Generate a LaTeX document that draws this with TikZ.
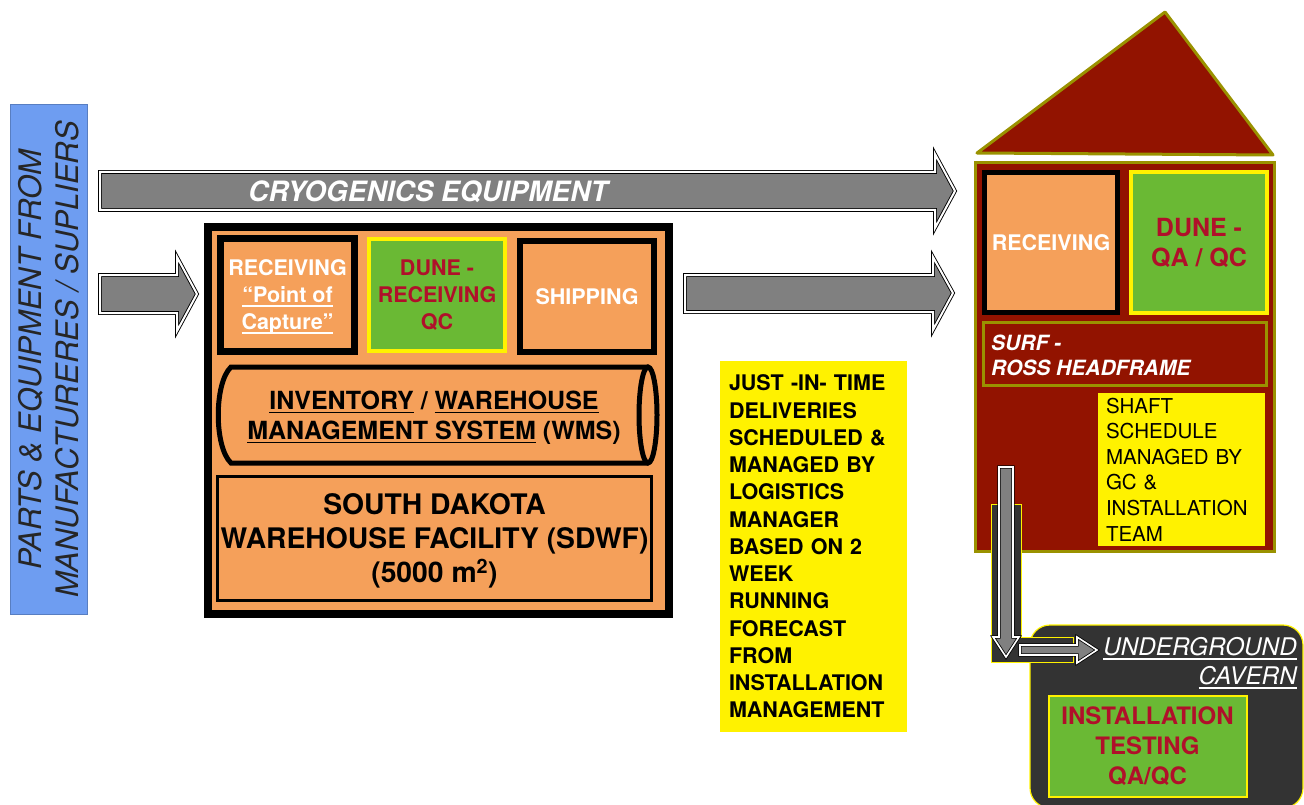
\documentclass[tikz,border=0pt]{standalone}
\usepackage{fontspec}
\setmainfont{TeX Gyre Heros}
\usepackage{tikz}

\newsavebox{\ulinbox}
\newcommand{\ulin}[1]{\sbox{\ulinbox}{#1}\rlap{\rule[-4pt]{\wd\ulinbox}{1.5pt}}\usebox{\ulinbox}}

\definecolor{boxorange}{HTML}{F5A05A}
\definecolor{qcgreen}{HTML}{6AB934}
\definecolor{qcred}{HTML}{B0102A}
\definecolor{housered}{HTML}{921300}
\definecolor{roofolive}{HTML}{9A9200}
\definecolor{arrowgray}{HTML}{808080}
\definecolor{partsblue}{HTML}{6E9DF1}
\definecolor{cavegray}{HTML}{333333}

\begin{document}
\begin{tikzpicture}[x=1pt,y=-1pt,
  bigarrow/.style={fill=arrowgray,draw=black,line width=0.9pt,double=white,double distance=2pt},
  area/.style={draw=black,fill=boxorange,inner sep=0pt,align=center,text=white,font=\fontsize{21.5}{27}\selectfont\bfseries},
  qcbox/.style={draw=yellow,fill=qcgreen,inner sep=0pt,align=center,text=qcred,text depth=0pt},
  note/.style={fill=yellow,inner sep=0pt,align=left}]
\useasboundingbox (0,0) rectangle (1304,805);

% suppliers
\node[draw=partsblue!80!black,line width=1pt,fill=partsblue,rotate=90,minimum width=509pt,minimum height=77pt,inner sep=0pt,
  align=center,text=black!85,font=\fontsize{31}{37}\selectfont\itshape] (parts) at (48.5,359.5)
  {PARTS \& EQUIPMENT FROM\\MANUFACTURERES / SUPLIERS};

% arrows
\draw[bigarrow] (100,172) -- (935,172) -- (935,154) -- (955,191) -- (935,228) -- (935,210) -- (100,210) -- cycle;
\node[text=white,font=\fontsize{28}{30}\selectfont\bfseries\itshape] (cryo) at (428,192) {CRYOGENICS EQUIPMENT};
\draw[bigarrow] (100,275) -- (177,275) -- (177,257) -- (197,294) -- (177,331) -- (177,313) -- (100,313) -- cycle;
\draw[bigarrow] (685,275) -- (933,275) -- (933,257) -- (953,293) -- (933,330) -- (933,312) -- (685,312) -- cycle;

% warehouse
\node[draw=black,line width=8pt,fill=boxorange,minimum width=461pt,minimum height=387pt] (sdwf) at (438.5,420.5) {};
\node[area,line width=7pt,minimum width=134pt,minimum height=113pt,text depth=0pt] (recv) at (287.5,295)
  {RECEIVING\\\ulin{“Point of}\\\ulin{Capture”}};
\node[qcbox,line width=4pt,minimum width=136pt,minimum height=112pt,font=\fontsize{21.5}{27}\selectfont\bfseries] (qc) at (437,295)
  {DUNE -\\RECEIVING\\QC};
\node[area,line width=6pt,minimum width=134pt,minimum height=111pt] (ship) at (587,296.5) {SHIPPING};

\draw[line width=5pt] (648,367) -- (231,367) .. controls (214,383) and (214,447) .. (231,463) -- (648,463);
\draw[line width=5pt] (648,415) ellipse [x radius=9, y radius=48];
\node[align=center,font=\fontsize{25}{30}\selectfont\bfseries,text depth=0pt] (wms) at (434,415)
  {\ulin{INVENTORY} / \ulin{WAREHOUSE}\\\ulin{MANAGEMENT SYSTEM} (WMS)};

\node[draw=black,line width=3pt,fill=boxorange,minimum width=434pt,minimum height=124pt,inner sep=0pt,align=center,
  text depth=0pt,font=\fontsize{28.3}{34}\selectfont\bfseries] (facility) at (434.5,538.5)
  {SOUTH DAKOTA\\WAREHOUSE FACILITY (SDWF)\\(5000 m\textsuperscript{2})};

% schedule note
\node[note,text width=169pt,inner xsep=9pt,minimum height=371pt,font=\fontsize{21.5}{27.25}\selectfont\bfseries] (jit) at (813.5,546.5)
  {JUST -IN- TIME\\DELIVERIES\\SCHEDULED \&\\MANAGED BY\\LOGISTICS\\MANAGER\\BASED ON 2\\WEEK\\RUNNING\\FORECAST\\FROM\\INSTALLATION\\MANAGEMENT};

% surf house
\draw[fill=housered,draw=roofolive,line width=3pt,line join=round] (977,153) -- (1165,12) -- (1273,155) -- cycle;
\node[draw=roofolive,fill=housered,line width=3pt,minimum width=299pt,minimum height=388pt] (house) at (1124.5,357) {};
\node[area,line width=5pt,minimum width=133pt,minimum height=140pt] (recv2) at (1051,242.5) {RECEIVING};
\node[qcbox,line width=4pt,minimum width=136pt,minimum height=141pt,font=\fontsize{25}{30}\selectfont\bfseries] (qa) at (1199,242.5)
  {DUNE -\\QA / QC};
\node[draw=roofolive,fill=housered,line width=3pt,minimum width=283pt,minimum height=63pt] (surf) at (1125,354) {};
\node[anchor=west,align=left,text=white,inner sep=0pt,font=\fontsize{21}{25}\selectfont\bfseries\itshape] (surftext) at (991,355)
  {SURF -\\ROSS HEADFRAME};
\node[note,text width=151pt,inner xsep=8pt,minimum height=153pt,font=\fontsize{20.5}{25.6}\selectfont] (shaftnote) at (1181.5,469.5)
  {SHAFT\\SCHEDULE\\MANAGED BY\\GC \&\\INSTALLATION\\TEAM};

% underground
\node[draw=yellow,fill=cavegray,line width=1.2pt,rounded corners=20pt,minimum width=273pt,minimum height=183pt] (cavern) at (1166.5,716.5) {};
\draw[fill=cavegray,draw=yellow,line width=1pt] (991,504) -- (1021,504) -- (1021,637) -- (1073,637) -- (1073,662) -- (991,662) -- cycle;
\draw[bigarrow,line width=0.8pt,double distance=1.6pt] (999,467) -- (1013,467) -- (1013,637) -- (1019,637) -- (1006,657) -- (993,637) -- (999,637) -- cycle;
\draw[bigarrow,line width=0.8pt,double distance=1.6pt] (1020,645) -- (1077,645) -- (1077,637) -- (1097,650) -- (1077,663) -- (1077,655) -- (1020,655) -- cycle;
\node[anchor=east,align=right,text=white,inner sep=0pt,font=\fontsize{24.3}{29}\selectfont\itshape] (cavetext) at (1297,663)
  {\ulin{UNDERGROUND}\\\ulin{CAVERN}};
\node[qcbox,line width=2pt,minimum width=198pt,minimum height=101pt,font=\fontsize{24}{30}\selectfont\bfseries] (inst) at (1147.5,746)
  {INSTALLATION\\TESTING\\QA/QC};
\end{tikzpicture}
\end{document}
